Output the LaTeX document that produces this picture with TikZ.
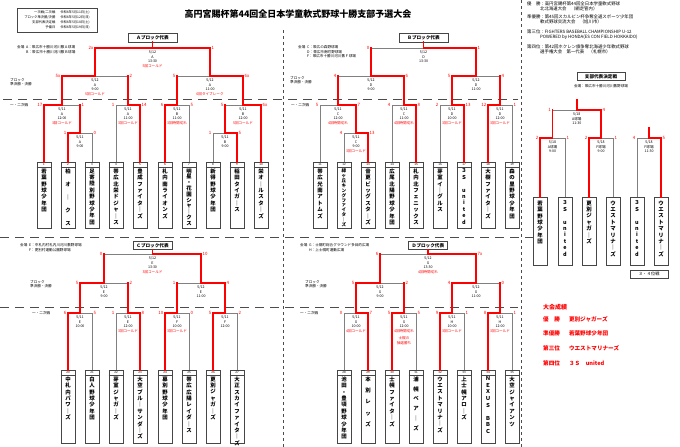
\documentclass[tikz,border=0pt]{standalone}
\usepackage{fontspec}
\setmainfont{Noto Sans CJK JP}
\usepackage{xcolor}
\usepackage{tikz}
\usetikzlibrary{positioning,calc}
\definecolor{winred}{RGB}{255,0,0}
\definecolor{linegray}{RGB}{128,128,128}
\definecolor{boxgray}{RGB}{70,70,70}

% stack the characters of a team name from top to bottom
\ExplSyntaxOn
\NewDocumentCommand \vstack { O{6.4pt} m }
  {
    \vtop
      {
        \baselineskip = #1 \scan_stop:
        \lineskiplimit = -20pt \scan_stop:
        \lineskip = 0pt \scan_stop:
        \tl_map_inline:nn {#2} { \hbox_to_wd:nn {8pt} { \hfil ##1 \hfil } }
      }
  }
\ExplSyntaxOff

\newcommand{\redtxt}[1]{\textcolor{winred}{#1}}

\tikzset{
  lose/.style={draw=linegray, line width=0.7pt},
  win/.style={draw=winred, line width=1.9pt, line cap=rect},
  teambox/.style={draw=boxgray, line width=0.6pt, minimum width=14pt, inner sep=0pt},
  boxline/.style={draw=boxgray, line width=0.5pt},
  teamno/.style={font=\fontsize{3}{3}\selectfont, inner sep=0pt},
  teamname/.style={font=\bfseries\fontsize{5.4}{6}\selectfont, inner sep=0pt, anchor=north},
  score/.style={font=\fontsize{4.4}{5}\selectfont, text=winred, inner sep=0pt},
  info/.style={font=\fontsize{3.6}{4.5}\selectfont, align=center, inner sep=0pt, anchor=north},
  repbox/.style={draw=boxgray, line width=0.7pt, fill=white, inner sep=0pt, font=\bfseries\fontsize{4.6}{5}\selectfont},
  venue/.style={font=\fontsize{3.6}{4.8}\selectfont, align=left, inner sep=0pt, anchor=north west},
  roundlbl/.style={font=\fontsize{3.6}{4.6}\selectfont, align=left, inner sep=0pt, anchor=west},
  sepline/.style={draw=black!70, line width=0.6pt, dash pattern=on 9pt off 6pt},
  vsepline/.style={draw=black!70, line width=0.6pt, dash pattern=on 3pt off 3pt},
}

% one game: name, left x, right x, y, winner (l/r), left score, right score, info
\newcommand{\bout}[8]{%
  \coordinate (#1-w) at (#2,#4);
  \coordinate (#1-e) at (#3,#4);
  \coordinate (#1) at ({(#2+#3)/2},#4);
  \draw[lose] (#1-w) -- (#1-e);
  \ifx l#5\draw[win] (#1-w) -- (#1);\else\draw[win] (#1-e) -- (#1);\fi
  \node[score, anchor=east] (#1-ls) at ($(#1-w)+(-1.5,0)$) {#6};
  \node[score, anchor=west] (#1-rs) at ($(#1-e)+(1.5,0)$) {#7};
  \node[info] (#1-i) at ($(#1)+(0,2.5)$) {#8};
}

% team box with number strip: name, x, top, number, height, text
\newcommand{\team}[6]{%
  \node[teambox, minimum height=#5pt, anchor=north] (#1) at (#2,#3) {};
  \draw[boxline] ($(#1.north west)+(0,5)$) -- ($(#1.north east)+(0,5)$);
  \node[teamno] (#1-no) at ($(#1.north)+(0,2.5)$) {#4};
  \node[teamname] (#1-name) at ($(#1.north)+(0,6.5)$) {#6};
}

% team box of the final stage (no number strip)
\newcommand{\finalist}[3]{%
  \node[teambox, minimum height=68pt, anchor=north] (#1) at (#2,197) {};
  \node[teamname] (#1-name) at ($(#1.north)+(0,3.5)$) {#3};
}

\begin{document}
\begin{tikzpicture}[x=1pt, y=-1pt, font=\fontsize{4}{5}\selectfont]
\fill[white] (0,0) rectangle (680,447);
\useasboundingbox (0,0) rectangle (680,447);

% header
\node[font=\bfseries\fontsize{9}{10}\selectfont, inner sep=0pt] (title) at (298,14) {高円宮賜杯第44回全日本学童軟式野球十勝支部予選大会};
\node[draw=boxgray, line width=0.6pt, minimum width=80pt, minimum height=24pt, inner sep=0pt, font=\fontsize{3.3}{5}\selectfont] (sched) at (57,20)
  {\begin{tabular}{@{}r@{\hspace{5pt}}l@{}}一次戦/二次戦 & 令和6年5月11日(土)\\ブロック準決勝/決勝 & 令和6年5月12日(日)\\支部代表決定戦 & 令和6年5月18日(土)\\予備日 & 令和6年5月19日(日)\end{tabular}};
\node[font=\fontsize{4.4}{5}\selectfont, align=left, anchor=north west, inner sep=0pt] (honors) at (527,1.5)
  {優　勝：高円宮賜杯第44回全日本学童軟式野球\\
   \hspace*{13pt}北北海道大会　（網走管内）\\[3pt]
   準優勝：第45回スカルピン杯争奪全道スポーツ少年団\\
   \hspace*{13pt}軟式野球交流大会　（旭川市）\\[5pt]
   第三位：FIGHTERS BASEBALL CHAMPIONSHIP U-12\\
   \hspace*{13pt}POWERED by HONDA(ES CON FIELD HOKKAIDO)\\[5pt]
   第四位：第42回ホクレン旗争奪北海道少年軟式野球\\
   \hspace*{13pt}選手権大会　第一代表　（札幌市）};

% separators
\draw[vsepline] (283,30) -- (283,447);
\draw[vsepline] (521,0) -- (521,447);
\draw[sepline] (3,99) -- (518,99);
\draw[sepline] (0,237) -- (535,237);
\draw[sepline] (0,307) -- (518,307);

% venues and round labels
\node[venue] (avenue) at (17,45) {会場\enspace A：帯広市十勝川河川敷Ａ球場\\\phantom{会場\enspace }B：帯広市十勝川河川敷Ｂ球場};
\node[venue] (bvenue) at (298,45) {会場\enspace C：帯広の森野球場\\\phantom{会場\enspace }D：帯広市南町野球場\\\phantom{会場\enspace }F：帯広市十勝川河川敷Ｆ球場};
\node[venue] (cvenue) at (20,243) {会場\enspace E：中札内村札内川河川敷野球場\\\phantom{会場\enspace }F：更別村運動公園野球場};
\node[venue] (dvenue) at (300,243) {会場\enspace G：士幌町総合グラウンド多目的広場\\\phantom{会場\enspace }H：上士幌町運動広場};
\node[roundlbl, anchor=north west] (ablock) at (10,78) {ブロック\\準決勝・決勝};
\node[roundlbl] (afirst) at (10,105) {一・二次戦};
\node[roundlbl, anchor=north west] (bblock) at (290,76) {ブロック\\準決勝・決勝};
\node[roundlbl] (bfirst) at (291,105) {一・二次戦};
\node[roundlbl, anchor=north west] (cblock) at (30,280) {ブロック\\準決勝・決勝};
\node[roundlbl] (cfirst) at (32,313) {一・二次戦};
\node[roundlbl, anchor=north west] (dblock) at (305,280) {ブロック\\準決勝・決勝};
\node[roundlbl] (dfirst) at (300,313) {一・二次戦};

% A block
\node[repbox, minimum width=49pt, minimum height=9pt] (arep) at (152.5,37.5) {Ａブロック代表};
\bout{aF}{95}{210}{48}{l}{2x}{1}{5/12\\A\\13:30\\\redtxt{5回コールド}}
\bout{aS1}{62}{128}{76}{l}{5x}{2}{5/12\\A\\9:00\\\redtxt{5回コールド}}
\bout{aS2}{177}{243}{76}{r}{5}{6x}{5/12\\A\\11:00\\\redtxt{6回タイブレーク}}
\bout{aR1}{44}{80}{105}{l}{17}{1}{5/11\\A\\12:00\\\redtxt{3回コールド}}
\bout{aR2}{116}{140}{105}{r}{1}{14}{5/11\\A\\11:00\\\redtxt{3回コールド}}
\bout{aR3}{165}{189}{105}{l}{6}{5}{5/11\\B\\11:00\\\redtxt{3回時間切れ}}
\bout{aR4}{225}{261}{105}{r}{5}{6x}{5/11\\B\\12:00\\\redtxt{5回コールド}}
\bout{aL1}{68}{92}{133}{l}{1}{0}{5/11\\A\\9:00}
\bout{aL2}{213}{237}{133}{r}{1}{5}{5/11\\B\\9:00}
\team{a1}{44}{162}{1}{66}{\vstack{若葉野球少年団}}
\team{a2}{68}{162}{2}{66}{\vstack[13pt]{柏オ｜クス}}
\team{a3}{92}{162}{3}{66}{\vstack{足寄陸別野球少年団}}
\team{a4}{116}{162}{4}{66}{\vstack{帯広北栄ドジャ｜ス}}
\team{a5}{140}{162}{5}{66}{\vstack{豊成ファイタ｜ズ}}
\team{a6}{165}{162}{6}{66}{\vstack{札内南ライオンズ}}
\team{a7}{189}{162}{7}{66}{\vstack[5.8pt]{明星・花園シャ｜クス}}
\team{a8}{213}{162}{8}{66}{\vstack{新得野球少年団}}
\team{a9}{237}{162}{9}{66}{\vstack{稲田タイガ｜ス}}
\team{a10}{261}{162}{10}{66}{\vstack{栄オ｜ルスタ｜ズ}}
\draw[lose] (aL1-e) -- (a3.north) (aR2-w) -- (a4.north) (aR3-e) -- (a7.north) (aL2-w) -- (a8.north);
\draw[win] (arep.south) -- (aF) (aF) -- (aF-e) (aF-w) -- (aS1) (aF-e) -- (aS2);
\draw[win] (aS1-w) -- (aR1) (aS1-e) -- (aR2) (aS2-w) -- (aR3) (aS2-e) -- (aR4);
\draw[win] (aR1-w) -- (a1.north) (aR1-e) -- (aL1) (aL1-w) -- (a2.north) (aR2-e) -- (a5.north);
\draw[win] (aR3-w) -- (a6.north) (aR4-w) -- (aL2) (aL2-e) -- (a9.north) (aR4-e) -- (a10.north);

% B block
\node[repbox, minimum width=49pt, minimum height=9pt] (brep) at (423.5,37.5) {Ｂブロック代表};
\bout{bF}{371}{476}{48}{r}{0}{1}{5/12\\D\\13:30}
\bout{bS1}{338}{404}{76}{r}{4}{6}{5/12\\D\\9:00}
\bout{bS2}{452}{500}{76}{l}{5}{4}{5/12\\D\\11:00}
\bout{bR1}{320}{356}{105}{r}{5}{7}{5/11\\C\\12:00\\\redtxt{4回時間切れ}}
\bout{bR2}{392}{416}{105}{r}{4}{8}{5/11\\C\\11:00\\\redtxt{4回時間切れ}}
\bout{bR3}{440}{464}{105}{r}{2}{13}{5/11\\D\\10:00\\\redtxt{3回コールド}}
\bout{bR4}{488}{512}{105}{l}{12}{1}{5/11\\D\\12:00\\\redtxt{3回コールド}}
\bout{bL1}{344}{368}{133}{r}{4}{13}{5/11\\C\\9:00\\\redtxt{3回コールド}}
\team{b1}{320}{162}{11}{66}{\vstack{帯広光南アトムズ}}
\team{b2}{344}{162}{12}{66}{\fontsize{4.6}{5}\selectfont\vstack[4.9pt]{緑ヶ丘キングファイタ｜ズ}}
\team{b3}{368}{162}{13}{66}{\vstack{音更ビッグスタ｜ズ}}
\team{b4}{392}{162}{14}{66}{\vstack{広尾北陽野球少年団}}
\team{b5}{416}{162}{15}{66}{\vstack{札内北フェニックス}}
\team{b6}{440}{162}{16}{66}{\vstack{芽室イ｜グルス}}
\team{b7}{464}{162}{17}{66}{\vstack{３Ｓ{}united}}
\team{b8}{488}{162}{18}{66}{\vstack{大樹ファイタ｜ズ}}
\team{b9}{512}{162}{19}{66}{\vstack{森の里野球少年団}}
\draw[lose] (bR1-w) -- (b1.north) (bL1-w) -- (b2.north) (bR2-w) -- (b4.north) (bR3-w) -- (b6.north) (bR4-e) -- (b9.north);
\draw[win] (brep.south) -- (bF) (bF-w) -- (bS1) (bF-e) -- (bS2);
\draw[win] (bS1-w) -- (bR1) (bS1-e) -- (bR2) (bS2-w) -- (bR3) (bS2-e) -- (bR4);
\draw[win] (bR1-e) -- (bL1) (bL1-e) -- (b3.north) (bR2-e) -- (b5.north) (bR3-e) -- (b7.north) (bR4-w) -- (b8.north);

% C block
\node[repbox, minimum width=39pt, minimum height=8pt] (crep) at (152.5,245.5) {Ｃブロック代表};
\bout{cF}{104}{201}{254}{r}{0}{10}{5/12\\E\\13:30\\\redtxt{3回コールド}}
\bout{cS1}{80}{128}{283}{l}{5}{2}{5/12\\E\\9:00}
\bout{cS2}{177}{225}{283}{r}{1}{4}{5/12\\E\\11:00}
\bout{cR1}{68}{92}{313}{l}{6}{5}{5/11\\E\\10:00}
\bout{cR2}{116}{140}{313}{r}{1}{8}{5/11\\E\\12:00\\\redtxt{3回コールド}}
\bout{cR3}{165}{189}{313}{l}{10}{0}{5/11\\F\\10:00\\\redtxt{3回コールド}}
\bout{cR4}{213}{237}{313}{l}{5}{2}{5/11\\F\\12:00}
\team{c1}{68}{370}{20}{73}{\vstack{中札内パワ｜ズ}}
\team{c2}{92}{370}{21}{73}{\vstack{白人野球少年団}}
\team{c3}{116}{370}{22}{73}{\vstack{芽室ジャガ｜ズ}}
\team{c4}{140}{370}{23}{73}{\vstack{大空ブル｜サンダ｜ズ}}
\team{c5}{165}{370}{24}{73}{\vstack{幕別野球少年団}}
\team{c6}{189}{370}{25}{73}{\vstack{帯広広陽レイダ｜ス}}
\team{c7}{213}{370}{26}{73}{\vstack{更別ジャガ｜ズ}}
\team{c8}{237}{370}{27}{73}{\vstack{大正スカイファイタ｜ズ}}
\draw[lose] (cR1-e) -- (c2.north) (cR2-w) -- (c3.north) (cR3-e) -- (c6.north) (cR4-e) -- (c8.north);
\draw[win] (crep.south) -- (cF) (cF-w) -- (cS1) (cF-e) -- (cS2);
\draw[win] (cS1-w) -- (cR1) (cS1-e) -- (cR2) (cS2-w) -- (cR3) (cS2-e) -- (cR4);
\draw[win] (cR1-w) -- (c1.north) (cR2-e) -- (c4.north) (cR3-w) -- (c5.north) (cR4-w) -- (c7.north);

% D block
\node[repbox, minimum width=39pt, minimum height=8pt] (drep) at (428,245.5) {Ｄブロック代表};
\bout{dF}{380}{476}{254}{r}{6}{7x}{5/12\\G\\13:30\\\redtxt{4回時間切れ}}
\bout{dS1}{356}{404}{283}{l}{5}{2}{5/12\\G\\9:00}
\bout{dS2}{452}{500}{283}{l}{4}{0}{5/12\\G\\11:00}
\bout{dR1}{344}{368}{313}{r}{0}{7}{5/11\\G\\10:00\\\redtxt{4回コールド}}
\bout{dR2}{392}{416}{313}{l}{5}{5}{5/11\\G\\12:00\\\redtxt{4回時間切れ}\\[3pt]\redtxt{士幌の}\\\redtxt{抽選勝ち}}
\bout{dR3}{440}{464}{313}{l}{9}{1}{5/11\\H\\10:00\\\redtxt{3回コールド}}
\bout{dR4}{488}{512}{313}{l}{8}{1}{5/11\\H\\12:00\\\redtxt{3回コールド}}
\team{d1}{344}{370}{28}{73}{\vstack{池田・豊頃野球少年団}}
\team{d2}{368}{370}{29}{73}{\vstack[11.3pt]{本別レッズ}}
\team{d3}{392}{370}{30}{73}{\vstack{士幌ファイタ｜ズ}}
\team{d4}{416}{370}{31}{73}{\vstack[9.8pt]{浦幌ベア｜ズ}}
\team{d5}{440}{370}{32}{73}{\vstack{ウエストマリナ｜ズ}}
\team{d6}{464}{370}{33}{73}{\vstack{上士幌アロ｜ズ}}
\team{d7}{488}{370}{34}{73}{\vstack[6.6pt]{ＮＥＸＵＳ　ＢＢＣ}}
\team{d8}{512}{370}{35}{73}{\vstack{大空ジャイアンツ}}
\draw[lose] (dR1-w) -- (d1.north) (dR2-e) -- (d4.north) (dR3-e) -- (d6.north) (dR4-e) -- (d8.north);
\draw[win] (drep.south) -- (dF) (dF-w) -- (dS1) (dF-e) -- (dS2);
\draw[win] (dS1-w) -- (dR1) (dS1-e) -- (dR2) (dS2-w) -- (dR3) (dS2-e) -- (dR4);
\draw[win] (dR1-e) -- (d2.north) (dR2-w) -- (d3.north) (dR3-w) -- (d5.north) (dR4-w) -- (d7.north);

% branch final stage
\node[repbox, minimum width=48pt, minimum height=8pt] (shibu) at (601,76.5) {支部代表決定戦};
\node[venue, anchor=center] (shibuvenue) at (601,86) {会場：帯広市十勝川河川敷野球場};
\coordinate (champ) at (576.75,100);
\coordinate (bronze) at (649,128);
\bout{rF}{552.5}{601}{110}{r}{1}{4}{5/18\\A球場\\11:30}
\bout{rS1}{540}{565}{138}{l}{2}{1}{5/18\\A球場\\9:00}
\bout{rS2}{589}{613}{138}{l}{2}{1}{5/18\\F球場\\9:00}
\bout{r34}{637}{661}{138}{r}{4}{5}{5/18\\F球場\\11:30}
\finalist{r1}{540}{\vstack{若葉野球少年団}}
\finalist{r2}{565}{\vstack{３Ｓ{}united}}
\finalist{r3}{589}{\vstack{更別ジャガ｜ズ}}
\finalist{r4}{613}{\vstack{ウエストマリナ｜ズ}}
\finalist{r5}{637}{\vstack{３Ｓ{}united}}
\finalist{r6}{661}{\vstack{ウエストマリナ｜ズ}}
\draw[lose] (rS1-e) -- (r2.north) (rS2-e) -- (r4.north) (r34-w) -- (r5.north);
\draw[win] (champ) -- (rF) (rF-w) -- (rS1) (rF-e) -- (rS2) (bronze) -- (r34);
\draw[win] (rS1-w) -- (r1.north) (rS2-w) -- (r3.north) (r34-e) -- (r6.north);
\node[repbox, font=\fontsize{4.2}{5}\selectfont, minimum width=38pt, minimum height=8pt] (sanyon) at (649,274) {３・４位戦};

% results
\node[font=\bfseries\fontsize{6}{7}\selectfont, text=winred, anchor=west, inner sep=0pt] (seiseki) at (543,307) {大会成績};
\node[font=\bfseries\fontsize{5.6}{6}\selectfont, text=winred, anchor=north west, inner sep=0pt] (juni) at (543,316)
  {\begin{tabular}{@{}l@{\hspace{9pt}}l@{}}優　勝 & 更別ジャガーズ\\[8pt]準優勝 & 若葉野球少年団\\[8pt]第三位 & ウエストマリナーズ\\[8pt]第四位 & ３Ｓ　united\end{tabular}};
\end{tikzpicture}
\end{document}
